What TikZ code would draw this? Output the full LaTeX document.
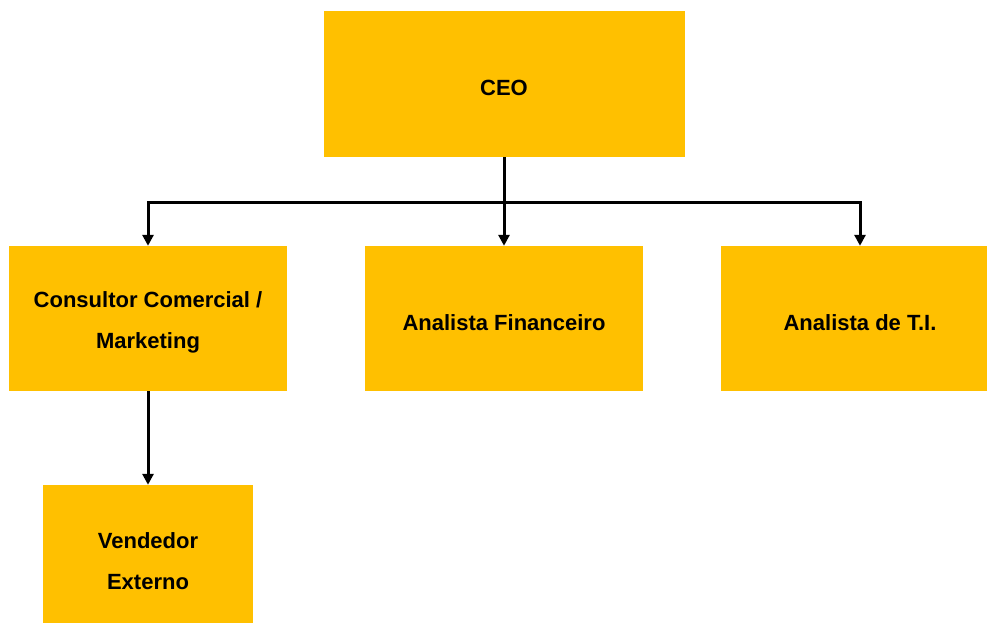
\documentclass[tikz,border=0pt]{standalone}
\usepackage{fontspec}
\setmainfont{Liberation Sans}
\usetikzlibrary{arrows.meta}
\definecolor{boxgold}{HTML}{FFC000}
\begin{document}
\begin{tikzpicture}[x=1pt,y=-1pt,
  orgbox/.style={fill=boxgold, draw=none, inner sep=0pt, minimum width=278pt,
    minimum height=145pt},
  boxtext/.style={align=center, font=\fontsize{22}{41}\selectfont\bfseries,
    text=black, inner sep=0pt, yshift=-4pt},
  link/.style={line width=3pt, -{Triangle[length=11pt,width=11pt]}}]
  \useasboundingbox (0,0) rectangle (987,623);
  % boxes
  \node[orgbox, minimum width=361pt, minimum height=146pt] (ceo) at (504,84) {};
  \node[orgbox] (cons) at (148,318.5) {};
  \node[orgbox] (fin) at (504,318.5) {};
  \node[orgbox] (ti) at (860,318.5) {};
  \node[orgbox, minimum width=210pt] (vend) at (148,557.5) {};
  % titles
  \node[boxtext] (ceot) at (ceo.center) {CEO};
  \node[boxtext] (const) at (cons.center) {Consultor Comercial /\\Marketing};
  \node[boxtext] (fint) at (fin.center) {Analista Financeiro};
  \node[boxtext] (tit) at (ti.center) {Analista de T.I.};
  \node[boxtext] (vendt) at (vend.center) {Vendedor\\Externo};
  % reporting lines
  \coordinate (bus) at (504,202);
  \draw[link] (ceo.south) -- (fin.north);
  \draw[link] (ceo.south) -- (bus) -| (cons.north);
  \draw[link] (ceo.south) -- (bus) -| (ti.north);
  \draw[link] (cons.south) -- (vend.north);
\end{tikzpicture}
\end{document}
